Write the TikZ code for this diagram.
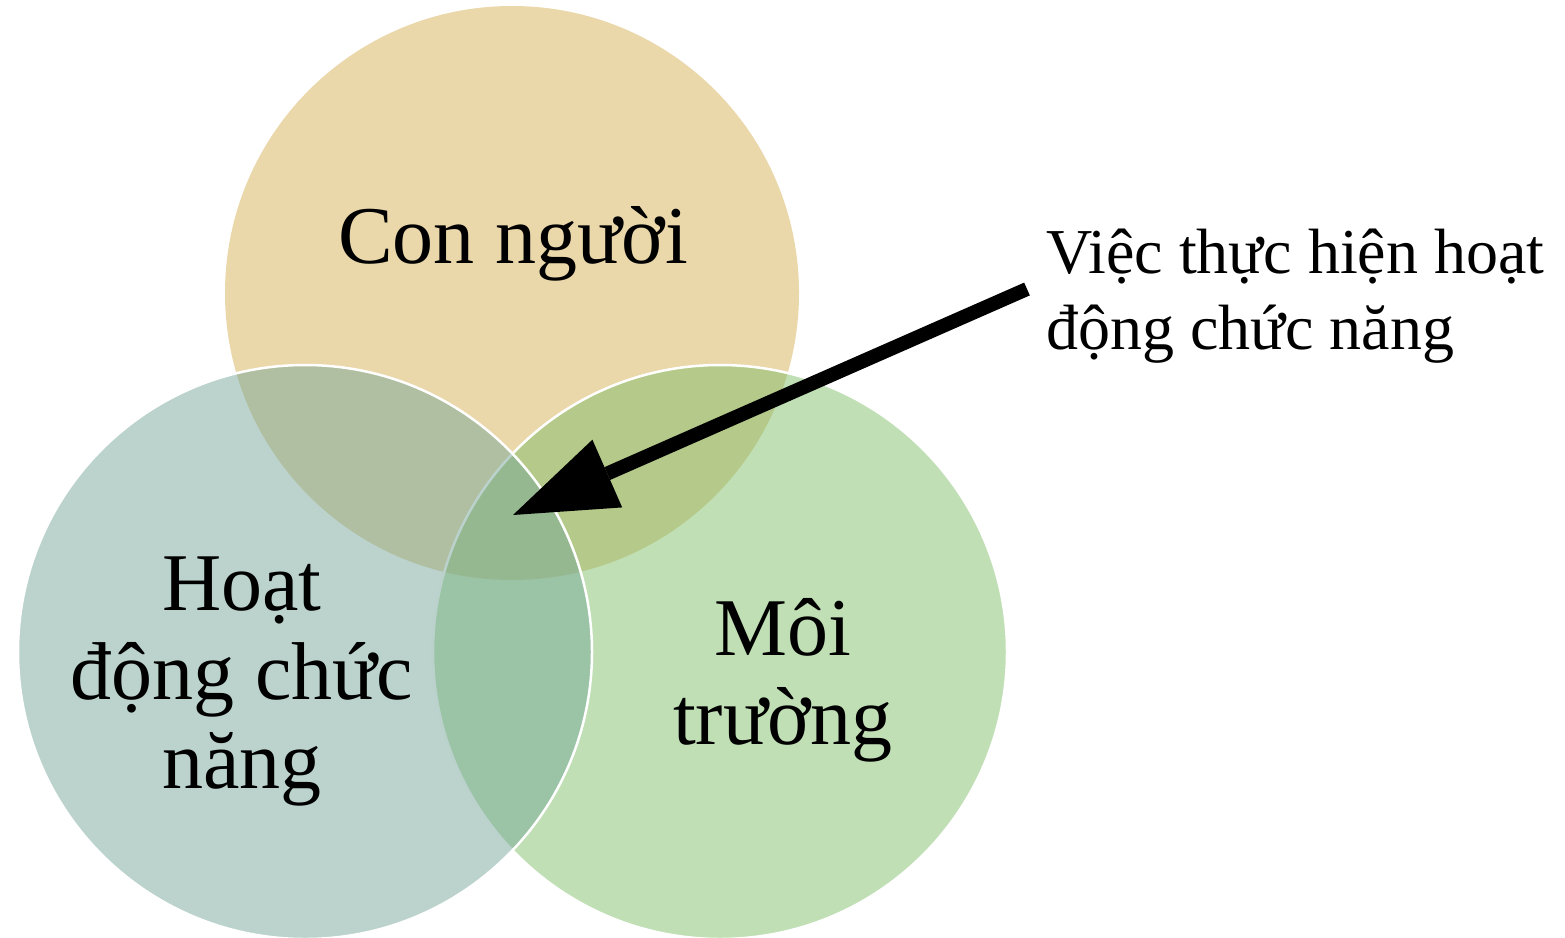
\documentclass[tikz,border=0pt]{standalone}
\usepackage{fontspec}
\setmainfont{Liberation Serif}
\usetikzlibrary{arrows.meta}
\definecolor{nguoi}{RGB}{213,175,85}
\definecolor{hoatdong}{RGB}{119,167,153}
\definecolor{moitruong}{RGB}{129,191,107}

\begin{document}
\begin{tikzpicture}[x=1pt, y=-1pt,
  vong/.style={circle, minimum size=574pt, inner sep=0pt, fill opacity=0.5, draw=white, line width=2.5pt},
  nhan/.style={font=\fontsize{82}{89}\selectfont, align=center, inner sep=0pt}]
\useasboundingbox (0,0) rectangle (1565,937);
% three circles
\node[vong, fill=nguoi, draw=none] (Nguoi) at (512,293) {};
\node[vong, fill=moitruong] (MoiTruong) at (720,652) {};
\node[vong, fill=hoatdong] (HoatDong) at (305,652) {};
% labels
\node[nhan, anchor=base] (tNguoi) at (513,263) {Con người};
\node[nhan] (tHoatDong) at (242,681) {Hoạt\\động chức\\năng};
\node[nhan] (tMoiTruong) at (783,680) {Môi\\trường};
\node[font=\fontsize{64}{76}\selectfont, align=left, inner sep=0pt, anchor=west] (tViec) at (1046,296) {Việc thực hiện hoạt\\động chức năng};
% arrow to the centre
\coordinate (duoi) at (1027,289);
\coordinate (mui) at (513,515);
\draw[line width=14pt, -{Triangle[length=103pt, width=74pt, line width=0pt]}] (duoi) -- (mui);
\end{tikzpicture}
\end{document}
